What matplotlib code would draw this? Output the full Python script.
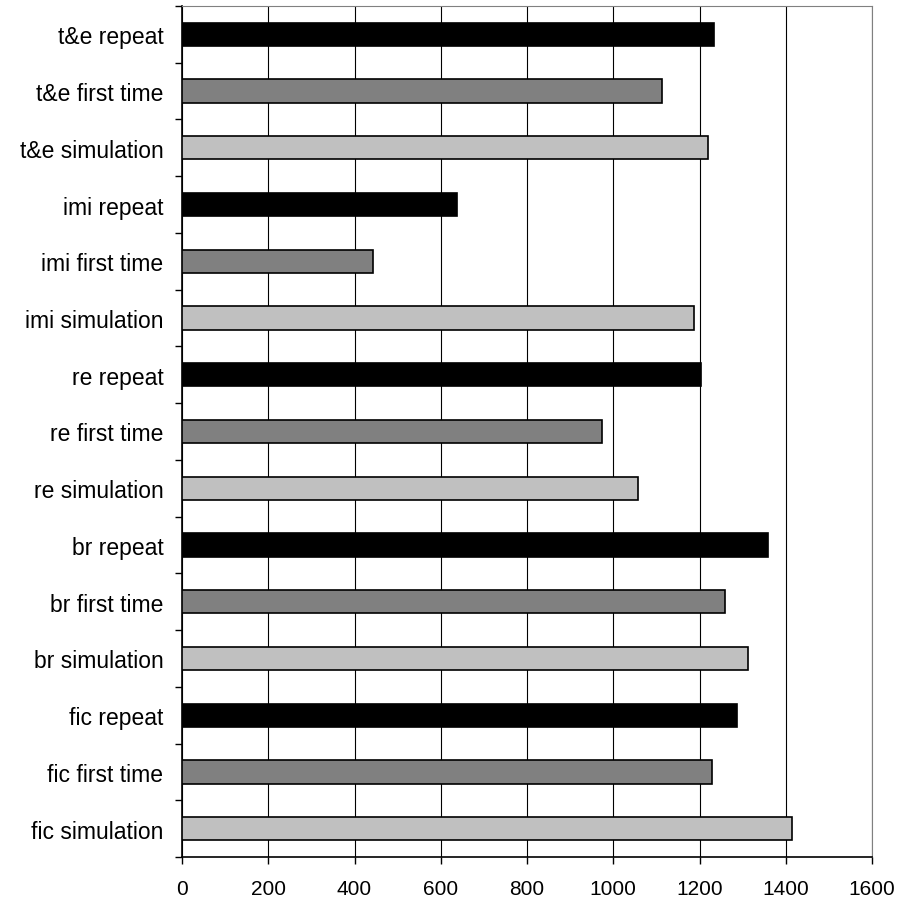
import matplotlib.pyplot as plt
import numpy as np

plt.rcParams['font.family'] = ['Liberation Sans', 'DejaVu Sans']

# categories top to bottom
labels = ['t&e repeat', 't&e first time', 't&e simulation',
          'imi repeat', 'imi first time', 'imi simulation',
          're repeat', 're first time', 're simulation',
          'br repeat', 'br first time', 'br simulation',
          'fic repeat', 'fic first time', 'fic simulation']
values = [1234, 1114, 1220,
          638, 444, 1188,
          1203, 973, 1058,
          1359, 1258, 1313,
          1288, 1229, 1415]
kinds = ['repeat', 'first time', 'simulation'] * 5
kind_colors = {'repeat': '#000000', 'first time': '#808080', 'simulation': '#c0c0c0'}

fig = plt.figure(figsize=(9, 9.03), dpi=100)
ax = fig.add_axes([182 / 900, 45 / 903, 690 / 900, 851 / 903])

y = np.arange(len(labels))
colors = [kind_colors[k] for k in kinds]
ax.barh(y, values, height=0.41, color=colors, edgecolor='black', linewidth=1.2, zorder=3)

ax.set_xlim(0, 1600)
ax.set_ylim(len(labels) - 0.5, -0.5)
ax.set_xticks(np.arange(0, 1601, 200))
ax.tick_params(axis='x', labelsize=15, length=5, width=1, pad=11)

ax.set_yticks(y)
ax.set_yticklabels(labels)
ax.tick_params(axis='y', which='major', length=0, labelsize=16.5, pad=13.5)
ax.set_yticks(np.arange(-0.5, len(labels), 1), minor=True)
ax.tick_params(axis='y', which='minor', length=5, width=1)

ax.xaxis.grid(True, color='black', linewidth=0.8, zorder=0)
ax.set_axisbelow(True)

for side in ['top', 'right']:
    ax.spines[side].set_color('#808080')
ax.spines['left'].set_linewidth(1.2)
ax.spines['bottom'].set_linewidth(1.2)

plt.savefig('out.png', dpi=100)
